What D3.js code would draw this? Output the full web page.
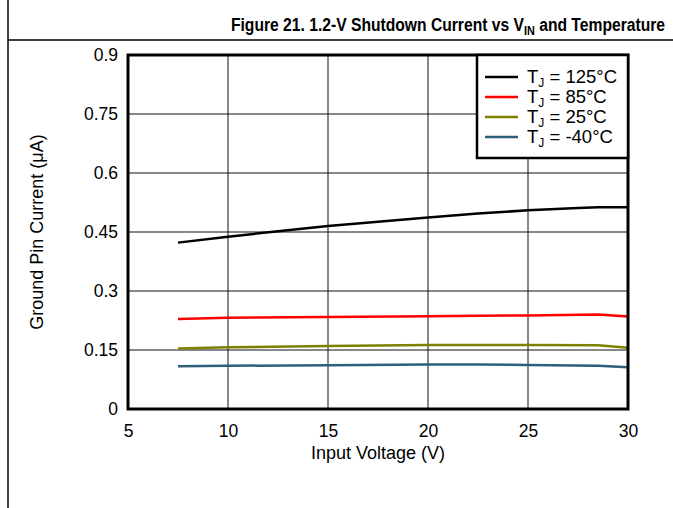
<!DOCTYPE html>
<html>
<head>
<meta charset="utf-8">
<script src="https://cdn.jsdelivr.net/npm/d3@7"></script>
<style>
body{margin:0;background:#fff;}
text{font-family:"Liberation Sans",Arial,sans-serif;}
</style>
</head>
<body>
<div id="chart"></div>
<script>
// values
const vin125 = [7.5, 10, 12.5, 15, 17.5, 20, 22.5, 25, 27.5, 28.5, 30];
const tj125 = [0.423, 0.438, 0.452, 0.465, 0.476, 0.487, 0.497, 0.505, 0.511, 0.513, 0.513];
const vinLow = [7.5, 10, 15, 20, 22.5, 25, 28.5, 30];
const tj85 = [0.229, 0.232, 0.234, 0.236, 0.237, 0.238, 0.240, 0.235];
const tj25 = [0.154, 0.157, 0.160, 0.163, 0.163, 0.163, 0.162, 0.156];
const tjm40 = [0.109, 0.110, 0.111, 0.113, 0.113, 0.112, 0.110, 0.106];
const legendTemps = ["125\u00b0C", "85\u00b0C", "25\u00b0C", "-40\u00b0C"];
const colors = ["#000000", "#ff0000", "#808000", "#2e5f7a"];
const xTicks = [5, 10, 15, 20, 25, 30];
const yTicks = [0, 0.15, 0.3, 0.45, 0.6, 0.75, 0.9];

const W = 673, H = 508;
const svg = d3.select("#chart").append("svg").attr("width", W).attr("height", H);

// page frame
svg.append("line").attr("x1", 8).attr("x2", 8).attr("y1", 0).attr("y2", H)
   .attr("stroke", "#000").attr("stroke-width", 1.5);
svg.append("line").attr("x1", 8).attr("x2", W).attr("y1", 40).attr("y2", 40)
   .attr("stroke", "#000").attr("stroke-width", 1.5);
// title, a bit condensed like the original
const title = svg.append("g").attr("transform", "translate(665,31) scale(0.87,1)")
  .append("text").attr("text-anchor", "end").attr("font-size", 18).attr("font-weight", "bold");
title.append("tspan").text("Figure 21. 1.2-V Shutdown Current vs V");
title.append("tspan").attr("font-size", 12.5).attr("dy", 4).text("IN");
title.append("tspan").attr("dy", -4).text(" and Temperature");

const x = d3.scaleLinear().domain([5, 30]).range([128, 628]);
const y = d3.scaleLinear().domain([0, 0.9]).range([409, 55]);

// grid
const g = svg.append("g");
g.selectAll(".gx").data(xTicks.slice(1, -1)).join("line")
  .attr("x1", d => x(d)).attr("x2", d => x(d)).attr("y1", y(0)).attr("y2", y(0.9))
  .attr("stroke", "#111").attr("stroke-width", 1);
g.selectAll(".gy").data(yTicks.slice(1, -1)).join("line")
  .attr("x1", x(5)).attr("x2", x(30)).attr("y1", d => y(d)).attr("y2", d => y(d))
  .attr("stroke", "#111").attr("stroke-width", 1);

// axes (labels only)
const xAxis = svg.append("g").attr("transform", "translate(0," + y(0) + ")")
  .call(d3.axisBottom(x).tickValues(xTicks).tickSize(0).tickPadding(16).tickFormat(d3.format("d")));
const yAxis = svg.append("g").attr("transform", "translate(" + x(5) + ",0)")
  .call(d3.axisLeft(y).tickValues(yTicks).tickSize(0).tickPadding(10).tickFormat(d => String(d)));
[xAxis, yAxis].forEach(a => {
  a.select(".domain").remove();
  a.attr("font-size", 17.5).attr("font-family", "Liberation Sans, Arial, sans-serif");
  a.selectAll("text").attr("fill", "#000");
});

// data lines
const line = d3.line().x(d => x(d[0])).y(d => y(d[1]));
const series = [
  d3.zip(vin125, tj125),
  d3.zip(vinLow, tj85),
  d3.zip(vinLow, tj25),
  d3.zip(vinLow, tjm40)
];
svg.selectAll(".s").data(series).join("path")
  .attr("d", line).attr("fill", "none")
  .attr("stroke", (d, i) => colors[i]).attr("stroke-width", 2.5);

// plot border
svg.append("rect").attr("x", x(5)).attr("y", y(0.9))
  .attr("width", x(30) - x(5)).attr("height", y(0) - y(0.9))
  .attr("fill", "none").attr("stroke", "#000").attr("stroke-width", 3);

// legend
const lg = svg.append("g");
lg.append("rect").attr("x", 477).attr("y", 55).attr("width", 628 - 477).attr("height", 103)
  .attr("fill", "#fff").attr("stroke", "#000").attr("stroke-width", 2.5);
legendTemps.forEach((t, i) => {
  const ly = 77 + i * 20;
  lg.append("line").attr("x1", 485).attr("x2", 518).attr("y1", ly).attr("y2", ly)
    .attr("stroke", colors[i]).attr("stroke-width", 2.5);
  const tx = lg.append("text").attr("x", 527).attr("y", ly + 6).attr("font-size", 18.5);
  tx.append("tspan").text("T");
  tx.append("tspan").attr("font-size", 12).attr("dy", 4).text("J");
  tx.append("tspan").attr("dy", -4).text(" = " + t);
});

// axis titles
svg.append("text").attr("x", x(17.5)).attr("y", 459).attr("text-anchor", "middle")
  .attr("font-size", 18).text("Input Voltage (V)");
svg.append("text").attr("transform", "translate(43," + y(0.45) + ") rotate(-90)")
  .attr("text-anchor", "middle").attr("font-size", 18).text("Ground Pin Current (\u03bcA)");
</script>
</body>
</html>
